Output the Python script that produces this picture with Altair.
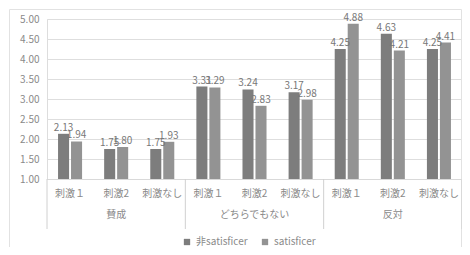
import altair as alt
import pandas as pd

groups = ["賛成", "どちらでもない", "反対"]
subs = ["刺激１", "刺激2", "刺激なし"]
series = ["非satisficer", "satisficer"]
non_sat = [2.13, 1.75, 1.75, 3.31, 3.24, 3.17, 4.25, 4.63, 4.25]
sat = [1.94, 1.80, 1.93, 3.29, 2.83, 2.98, 4.88, 4.21, 4.41]
y_ticks = [1.0, 1.5, 2.0, 2.5, 3.0, 3.5, 4.0, 4.5, 5.0]

keys = [f"{g}|{s}" for g in groups for s in subs]
rows = []
for i, k in enumerate(keys):
    rows.append({"key": k, "series": series[0], "value": non_sat[i]})
    rows.append({"key": k, "series": series[1], "value": sat[i]})
df = pd.DataFrame(rows)

W, H = 415, 160
FONT = "Noto Sans CJK JP"
GRAY = "#8a8a8a"

xscale = alt.Scale(domain=keys, paddingInner=0, paddingOuter=0)
xaxis = alt.Axis(title=None, labelExpr="split(datum.label,'|')[1]",
                 labelAngle=0, ticks=False, domainColor="#d9d9d9",
                 labelColor=GRAY, labelFont=FONT, labelFontSize=10,
                 labelPadding=9, labelOverlap=False)
yscale = alt.Scale(domain=[1, 5], zero=False, nice=False, clamp=True)
yaxis = alt.Axis(title=None, values=y_ticks, format=".2f", ticks=False,
                 domain=False, gridColor="#dedede", labelColor=GRAY,
                 labelFont=FONT, labelFontSize=10, labelPadding=8,
                 labelOverlap=False, tickCount=9)
xoff = alt.XOffset("series:N", sort=series,
                   scale=alt.Scale(paddingInner=0.15, paddingOuter=0.85))

base = alt.Chart(df)
bars = base.mark_bar().encode(
    x=alt.X("key:N", scale=xscale, sort=keys, axis=xaxis),
    xOffset=xoff,
    y=alt.Y("value:Q", scale=yscale, axis=yaxis),
    color=alt.Color("series:N", sort=series,
                    scale=alt.Scale(domain=series, range=["#7d7d7d", "#939393"]),
                    legend=alt.Legend(title=None, orient="none", legendX=135, legendY=218,
                                      direction="horizontal", symbolType="square",
                                      symbolSize=40, labelFont=FONT, labelFontSize=10,
                                      labelColor=GRAY, columnPadding=12, symbolStrokeWidth=0)),
)
labels = base.mark_text(dy=-6, fontSize=10, font=FONT, color="#777777").encode(
    x=alt.X("key:N", scale=xscale, sort=keys, axis=xaxis),
    xOffset=xoff,
    y=alt.Y("value:Q", scale=yscale, axis=yaxis),
    text=alt.Text("value:Q", format=".2f"),
)

gdf = pd.DataFrame({"group": groups,
                    "first": [keys[0], keys[3], keys[6]],
                    "mid": [keys[1], keys[4], keys[7]]})
sep_left = alt.Chart(gdf).mark_rule(color="#d0d0d0").encode(
    x=alt.X("first:N", scale=xscale, sort=keys, bandPosition=0, axis=xaxis),
    y=alt.value(H), y2=alt.value(H + 50))
sep_right = alt.Chart(pd.DataFrame({"last": [keys[-1]]})).mark_rule(color="#d0d0d0").encode(
    x=alt.X("last:N", scale=xscale, sort=keys, bandPosition=1, axis=xaxis),
    y=alt.value(H), y2=alt.value(H + 50))
glabels = alt.Chart(gdf).mark_text(fontSize=10, font=FONT, color=GRAY).encode(
    x=alt.X("mid:N", scale=xscale, sort=keys, bandPosition=0.5, axis=xaxis),
    y=alt.value(H + 36), text="group:N")
frame = alt.Chart(pd.DataFrame({"a": [0]})).mark_rect(
    fill=None, stroke="#e2e2e2", strokeWidth=1).encode(
    x=alt.value(-37.5), x2=alt.value(414.5), y=alt.value(-9.5), y2=alt.value(229.5))

chart = alt.layer(frame, bars, labels, sep_left, sep_right, glabels).properties(
    width=W, height=H,
    autosize=alt.AutoSizeParams(type="none"),
    padding={"left": 39, "top": 11, "right": 0, "bottom": 68},
).configure_view(stroke=None).configure(background="white")

chart.save("out.html", embed_options={"renderer": "svg", "actions": False})
